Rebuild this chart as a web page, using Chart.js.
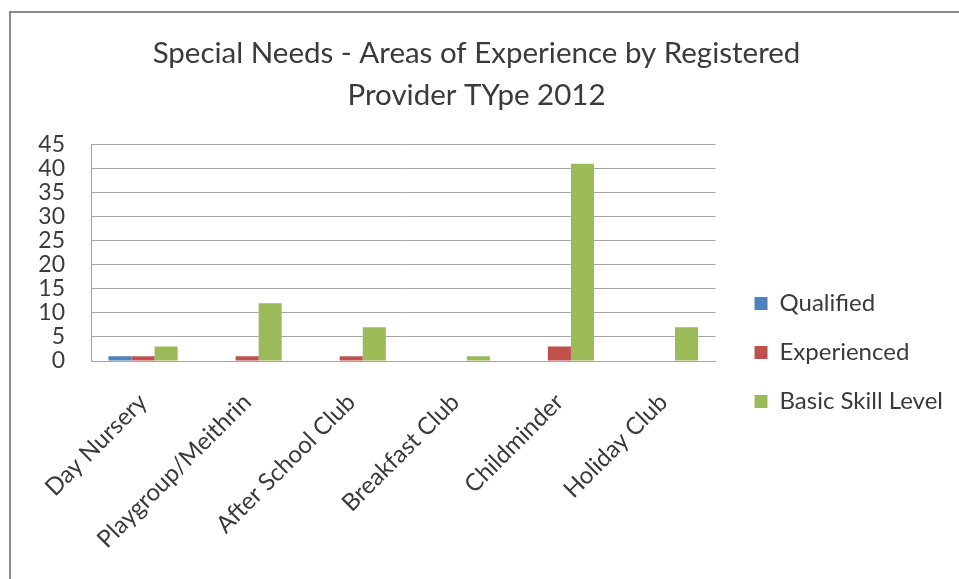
<!DOCTYPE html>
<html>
<head>
<meta charset="utf-8">
<script src="https://cdn.jsdelivr.net/npm/chart.js@4/dist/chart.umd.min.js"></script>
<style>
  html, body { margin: 0; padding: 0; background: #fff; }
  #wrap { position: relative; width: 959px; height: 579px; overflow: hidden; }
  #frame { position: absolute; left: 9px; top: 11px; width: 960px; height: 580px;
           border-left: 2px solid #8c8c8c; border-top: 2px solid #8c8c8c; pointer-events: none; }
  canvas { position: absolute; left: 0; top: 0; }
</style>
</head>
<body>
<div id="wrap">
  <canvas id="chart" width="959" height="579"></canvas>
  <div id="frame"></div>
</div>
<script>
// Provider types and the number of staff in each area of special-needs experience
const categories = ["Day Nursery", "Playgroup/Meithrin", "After School Club", "Breakfast Club", "Childminder", "Holiday Club"];
const qualified   = [1, 0, 0, 0, 0, 0];
const experienced = [1, 1, 1, 0, 3, 0];
const basicSkill  = [3, 12, 7, 1, 41, 7];
const yTicks = [0, 5, 10, 15, 20, 25, 30, 35, 40, 45];

const FONT = "Lato, 'Open Sans', sans-serif";
const TEXT = "#3a3a3a";
const GRID = "#a6a6a6";

new Chart(document.getElementById("chart"), {
  type: "bar",
  data: {
    labels: categories,
    datasets: [
      { label: "Qualified",         data: qualified,   backgroundColor: "#4f81bd" },
      { label: "Experienced",       data: experienced, backgroundColor: "#c0504d" },
      { label: "Basic Skill Level", data: basicSkill,  backgroundColor: "#9bbb59" }
    ]
  },
  options: {
    responsive: false,
    animation: false,
    layout: { padding: { left: 0, right: 6, top: 0, bottom: 0 } },
    datasets: { bar: { categoryPercentage: 0.665, barPercentage: 1.0 } },
    plugins: {
      title: {
        display: true,
        text: ["Special Needs - Areas of Experience by Registered", "Provider TYpe 2012"],
        color: TEXT,
        font: { family: FONT, size: 29.5, weight: "normal", lineHeight: 1.43 },
        padding: { top: 32, bottom: 28 }
      },
      legend: {
        position: "right",
        maxWidth: 320,
        // blank title block lowers the centred key column
        title: {
          display: true,
          text: " ",
          font: { family: FONT, size: 12, lineHeight: 1 },
          padding: { top: 114, bottom: 0 }
        },
        labels: {
          color: TEXT,
          font: { family: FONT, size: 24 },
          boxWidth: 13,
          boxHeight: 13,
          padding: 25
        }
      },
      tooltip: { enabled: false }
    },
    scales: {
      x: {
        grid: { display: false },
        border: { display: true, color: GRID, width: 1 },
        ticks: {
          color: TEXT,
          font: { family: FONT, size: 24 },
          maxRotation: 45, minRotation: 45,
          autoSkip: false,
          padding: 19
        },
        afterFit: s => { s.height = 218; }
      },
      y: {
        min: 0, max: 45,
        afterBuildTicks: s => { s.ticks = yTicks.map(v => ({ value: v })); },
        grid: { color: GRID, lineWidth: 1, drawTicks: false },
        border: { display: true, color: GRID, width: 1 },
        ticks: {
          color: TEXT,
          font: { family: FONT, size: 23, lineHeight: 1 },
          autoSkip: false,
          padding: 26
        },
        afterFit: s => { s.width = 91; }
      },
      gap: {
        position: "right",
        display: true,
        grid: { display: false },
        border: { display: false },
        ticks: { display: false },
        afterFit: s => { s.width = 14; }
      }
    }
  }
});
</script>
</body>
</html>
